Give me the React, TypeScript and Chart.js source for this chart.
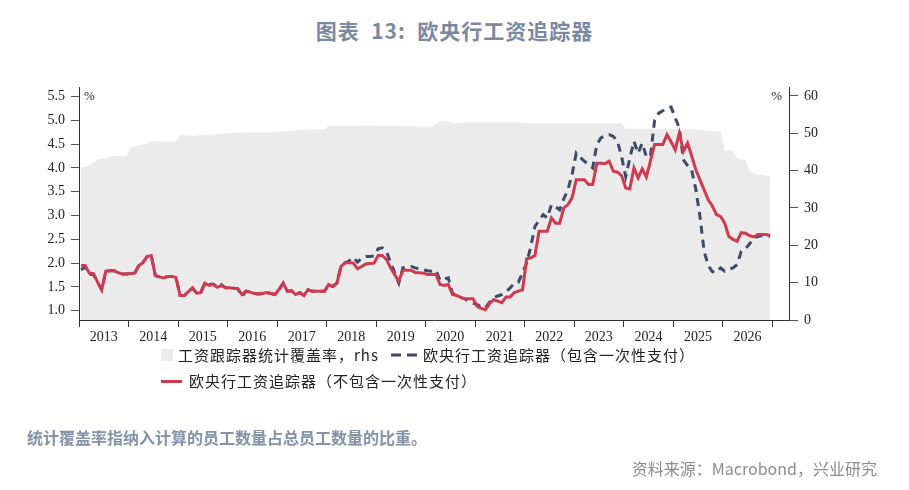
import { useEffect, useRef } from "react";
import { Chart, registerables } from "chart.js";

Chart.register(...registerables);

// Monthly series, January 2013 to December 2026
const FIRST_YEAR = 2013;
const YEAR_LABELS = [
  "2013", "2014", "2015", "2016", "2017", "2018", "2019",
  "2020", "2021", "2022", "2023", "2024", "2025", "2026",
];

// Wage tracker coverage, % of employees (right axis)
const coverageRate = [
  40.9, 40.9, 41.5, 42.1, 42.9, 43.2, 43.4, 43.6, 43.9, 43.9, 43.9, 43.9,
  46.0, 46.5, 46.9, 47.1, 47.3, 47.8, 47.8, 47.9, 47.9, 47.9, 47.9, 47.9,
  49.5, 49.5, 49.4, 49.3, 49.4, 49.5, 49.6, 49.7, 49.7, 49.8, 49.9, 50.0,
  50.0, 50.1, 50.2, 50.2, 50.3, 50.3, 50.3, 50.3, 50.3, 50.3, 50.3, 50.3,
  50.4, 50.5, 50.6, 50.7, 50.8, 50.9, 50.9, 51.0, 51.0, 51.0, 51.1, 51.1,
  52.0, 52.0, 52.0, 52.0, 52.0, 52.0, 52.0, 52.0, 52.1, 52.1, 52.1, 52.1,
  52.0, 52.0, 52.0, 52.0, 52.0, 52.0, 51.9, 51.9, 51.9, 51.8, 51.8, 51.8,
  51.8, 51.8, 52.3, 53.3, 53.2, 53.1, 52.8, 52.7, 52.8, 52.9, 53.0, 53.0,
  53.0, 53.0, 53.0, 53.0, 53.0, 53.0, 53.0, 53.0, 53.0, 53.0, 53.0, 52.8,
  52.7, 52.7, 52.7, 52.7, 52.7, 52.7, 52.7, 52.7, 52.7, 52.7, 52.7, 52.7,
  52.7, 52.7, 52.7, 52.7, 52.7, 52.7, 52.7, 52.7, 52.7, 52.7, 52.7, 52.7,
  51.2, 51.2, 51.2, 51.2, 51.2, 51.2, 51.2, 51.2, 51.2, 51.2, 51.2, 51.2,
  51.2, 51.2, 51.1, 51.1, 51.0, 51.0, 50.9, 50.8, 50.7, 50.6, 50.6, 50.6,
  45.4, 45.4, 45.4, 43.3, 43.0, 42.9, 39.7, 39.3, 39.0, 38.8, 38.6, 38.4,
];

// ECB wage tracker including one-off payments, % y/y (left axis)
const trackerWithOneOffs = [
  1.86, 1.92, 1.76, 1.76, 1.60, 1.44, 1.83, 1.84, 1.84, 1.80, 1.77, 1.77,
  1.78, 1.79, 1.95, 2.01, 2.14, 2.16, 1.74, 1.71, 1.69, 1.72, 1.72, 1.70,
  1.32, 1.32, 1.40, 1.48, 1.37, 1.38, 1.58, 1.55, 1.56, 1.50, 1.55, 1.48,
  1.48, 1.47, 1.46, 1.30, 1.41, 1.39, 1.36, 1.35, 1.36, 1.38, 1.36, 1.34,
  1.45, 1.58, 1.41, 1.42, 1.34, 1.38, 1.32, 1.44, 1.41, 1.41, 1.41, 1.41,
  1.55, 1.51, 1.58, 1.93, 2.01, 2.05, 2.12, 2.02, 2.10, 2.14, 2.14, 2.15,
  2.30, 2.32, 2.25, 2.02, 1.80, 1.58, 1.90, 1.92, 1.93, 1.90, 1.87, 1.86,
  1.84, 1.83, 1.85, 1.64, 1.67, 1.69, 1.37, 1.32, 1.28, 1.25, 1.20, 1.16,
  1.13, 1.08, 1.06, 1.18, 1.27, 1.31, 1.34, 1.40, 1.48, 1.58, 1.60, 1.80,
  2.00, 2.35, 2.77, 2.90, 3.02, 2.95, 3.23, 3.18, 3.12, 3.35, 3.54, 3.86,
  4.31, 4.22, 4.14, 4.07, 4.00, 4.49, 4.63, 4.68, 4.70, 4.66, 4.56, 4.24,
  3.82, 4.20, 4.56, 4.31, 4.52, 4.24, 4.24, 5.00, 5.15, 5.20, 5.26, 5.28,
  5.05, 4.84, 4.17, 4.05, 3.95, 3.55, 2.98, 2.25, 1.95, 1.82, 1.80, 1.90,
  1.83, 1.87, 1.90, 1.97, 2.25, 2.30, 2.40, 2.53, 2.56, 2.58, 2.58, 2.56,
];

// ECB wage tracker excluding one-off payments, % y/y (left axis)
const trackerExOneOffs = [
  1.95, 1.95, 1.79, 1.78, 1.60, 1.44, 1.83, 1.84, 1.84, 1.80, 1.77, 1.77,
  1.78, 1.79, 1.95, 2.01, 2.14, 2.16, 1.74, 1.71, 1.69, 1.72, 1.72, 1.70,
  1.32, 1.32, 1.40, 1.48, 1.37, 1.38, 1.58, 1.53, 1.55, 1.49, 1.53, 1.48,
  1.48, 1.47, 1.46, 1.34, 1.41, 1.39, 1.36, 1.35, 1.36, 1.38, 1.36, 1.34,
  1.45, 1.58, 1.41, 1.42, 1.34, 1.38, 1.32, 1.44, 1.41, 1.41, 1.41, 1.41,
  1.55, 1.51, 1.58, 1.93, 2.01, 2.01, 2.00, 1.88, 1.93, 1.98, 1.99, 2.00,
  2.16, 2.16, 2.08, 1.90, 1.76, 1.62, 1.85, 1.85, 1.85, 1.80, 1.80, 1.79,
  1.76, 1.76, 1.76, 1.55, 1.53, 1.55, 1.34, 1.32, 1.28, 1.25, 1.25, 1.25,
  1.09, 1.05, 1.02, 1.15, 1.23, 1.20, 1.17, 1.29, 1.29, 1.38, 1.41, 1.44,
  2.09, 2.11, 2.16, 2.67, 2.67, 2.67, 2.95, 2.84, 2.84, 3.16, 3.23, 3.37,
  3.75, 3.75, 3.75, 3.65, 3.65, 4.10, 4.10, 4.09, 4.14, 3.93, 3.91, 3.84,
  3.58, 3.56, 4.00, 3.79, 3.98, 3.81, 4.15, 4.49, 4.49, 4.49, 4.70, 4.55,
  4.38, 4.73, 4.35, 4.52, 4.25, 3.96, 3.75, 3.54, 3.33, 3.20, 3.02, 2.98,
  2.84, 2.56, 2.50, 2.46, 2.64, 2.63, 2.58, 2.55, 2.60, 2.60, 2.60, 2.58,
];

const leftTickValues = [1.0, 1.5, 2.0, 2.5, 3.0, 3.5, 4.0, 4.5, 5.0, 5.5];
const rightTickValues = [0, 10, 20, 30, 40, 50, 60];

const RED = "#cf3a50";
const NAVY = "#3b4b69";
const AREA_GREY = "#ebebeb";
const AXIS = "#333333";
const TICK_FONT = { family: "'Liberation Serif', 'DejaVu Serif', serif", size: 14 };
const CJK = "'Noto Sans CJK SC', 'Noto Sans', sans-serif";

const monthX = (i: number) => FIRST_YEAR + (i + 0.5) / 12;
const toPoints = (values: number[]) => values.map((v, i) => ({ x: monthX(i), y: v }));

const percentMarks = {
  id: "percentMarks",
  afterDraw(chart: any) {
    const { ctx, chartArea } = chart;
    ctx.save();
    ctx.font = "13px 'Liberation Serif', serif";
    ctx.fillStyle = "#222";
    ctx.textBaseline = "middle";
    ctx.textAlign = "left";
    ctx.fillText("%", chartArea.left + 5, chartArea.top + 10);
    ctx.textAlign = "right";
    ctx.fillText("%", chartArea.right - 7, chartArea.top + 10);
    ctx.restore();
  },
};

export default function App() {
  const canvasRef = useRef<HTMLCanvasElement | null>(null);

  useEffect(() => {
    const canvas = canvasRef.current;
    if (!canvas) return;
    const chart = new Chart(canvas, {
      type: "line",
      data: {
        datasets: [
          {
            label: "欧央行工资追踪器（不包含一次性支付）",
            data: toPoints(trackerExOneOffs),
            yAxisID: "y",
            borderColor: RED,
            borderWidth: 3,
            pointRadius: 0,
            fill: false,
            tension: 0,
            order: 1,
          },
          {
            label: "欧央行工资追踪器（包含一次性支付）",
            data: toPoints(trackerWithOneOffs),
            yAxisID: "y",
            borderColor: NAVY,
            borderWidth: 3,
            borderDash: [8, 6],
            pointRadius: 0,
            fill: false,
            tension: 0,
            order: 2,
          },
          {
            label: "工资跟踪器统计覆盖率，rhs",
            data: toPoints(coverageRate),
            yAxisID: "y2",
            borderWidth: 0,
            borderColor: "rgba(0,0,0,0)",
            backgroundColor: AREA_GREY,
            pointRadius: 0,
            fill: "origin",
            tension: 0,
            order: 3,
          },
        ],
      },
      options: {
        responsive: false,
        animation: false,
        devicePixelRatio: 1,
        layout: { padding: { top: 87, bottom: 140, left: 0, right: 0 } },
        plugins: {
          legend: { display: false },
          tooltip: { enabled: false },
        },
        scales: {
          x: {
            type: "linear",
            position: "bottom",
            min: 2013,
            max: 2027.34,
            afterBuildTicks: (scale: any) => {
              const ticks: { value: number }[] = [];
              for (let y = FIRST_YEAR; y <= FIRST_YEAR + YEAR_LABELS.length; y++) {
                ticks.push({ value: y });
                if (y < FIRST_YEAR + YEAR_LABELS.length) ticks.push({ value: y + 0.5 });
              }
              scale.ticks = ticks;
            },
            afterFit: (scale: any) => {
              scale.height = 30;
            },
            grid: {
              drawOnChartArea: false,
              drawTicks: true,
              tickLength: 7,
              tickColor: (ctx: any) =>
                Number.isInteger(ctx.tick?.value) ? AXIS : "rgba(0,0,0,0)",
            },
            border: { display: true, color: AXIS, width: 1 },
            ticks: {
              autoSkip: false,
              maxRotation: 0,
              minRotation: 0,
              padding: 2,
              color: "#222",
              font: TICK_FONT,
              callback: (v: any) =>
                Number.isInteger(v) ? "" : YEAR_LABELS[Math.floor(v) - FIRST_YEAR] ?? "",
            },
          },
          y: {
            type: "linear",
            position: "left",
            min: 0.805,
            max: 5.7,
            afterBuildTicks: (scale: any) => {
              scale.ticks = leftTickValues.map((value) => ({ value }));
            },
            afterFit: (scale: any) => {
              scale.width = 79;
            },
            grid: { drawOnChartArea: false, tickLength: 8, tickColor: "#555" },
            border: { display: true, color: AXIS, width: 1 },
            ticks: {
              padding: 6,
              color: "#222",
              font: TICK_FONT,
              callback: (v: any) => Number(v).toFixed(1),
            },
          },
          y2: {
            type: "linear",
            position: "right",
            min: 0,
            max: 62.4,
            afterBuildTicks: (scale: any) => {
              scale.ticks = rightTickValues.map((value) => ({ value }));
            },
            afterFit: (scale: any) => {
              scale.width = 120;
            },
            grid: { drawOnChartArea: false, tickLength: 9, tickColor: "#555" },
            border: { display: true, color: AXIS, width: 1 },
            ticks: {
              padding: 6,
              color: "#222",
              font: TICK_FONT,
              callback: (v: any) => String(v),
            },
          },
        },
      },
      plugins: [percentMarks],
    });
    return () => chart.destroy();
  }, []);

  const legendText: React.CSSProperties = {
    position: "absolute",
    fontFamily: CJK,
    fontSize: 15,
    letterSpacing: 1,
    color: "#222",
    lineHeight: "20px",
    whiteSpace: "nowrap",
  };

  return (
    <div
      style={{
        position: "absolute",
        left: 0,
        top: 0,
        width: 909,
        height: 490,
        background: "#fff",
        overflow: "hidden",
      }}
    >
      <div
        style={{
          position: "absolute",
          left: 0,
          top: 15,
          width: 909,
          textAlign: "center",
          fontFamily: CJK,
          fontSize: 21,
          fontWeight: 700,
          letterSpacing: 1,
          color: "#7a89a1",
          lineHeight: "30px",
          whiteSpace: "pre",
        }}
      >
        {"图表  13:  欧央行工资追踪器"}
      </div>

      <canvas
        ref={canvasRef}
        width={909}
        height={490}
        style={{ position: "absolute", left: 0, top: 0, width: 909, height: 490 }}
      />

      {/* legend */}
      <div
        style={{
          position: "absolute",
          left: 161,
          top: 349,
          width: 12,
          height: 12,
          background: AREA_GREY,
        }}
      />
      <div style={{ ...legendText, left: 178, top: 345 }}>工资跟踪器统计覆盖率，rhs</div>
      <svg
        width={28}
        height={6}
        style={{ position: "absolute", left: 391, top: 352 }}
      >
        <line x1={0} y1={3} x2={28} y2={3} stroke={NAVY} strokeWidth={3} strokeDasharray="10,6" />
      </svg>
      <div style={{ ...legendText, left: 423, top: 345 }}>欧央行工资追踪器（包含一次性支付）</div>
      <div
        style={{
          position: "absolute",
          left: 161,
          top: 380,
          width: 21,
          height: 3,
          background: RED,
        }}
      />
      <div style={{ ...legendText, left: 189, top: 371 }}>欧央行工资追踪器（不包含一次性支付）</div>

      <div
        style={{
          position: "absolute",
          left: 27,
          top: 426,
          fontFamily: CJK,
          fontSize: 16,
          fontWeight: 700,
          color: "#8392a9",
          lineHeight: "22px",
          whiteSpace: "nowrap",
        }}
      >
        统计覆盖率指纳入计算的员工数量占总员工数量的比重。
      </div>
      <div
        style={{
          position: "absolute",
          right: 32,
          top: 457,
          fontFamily: CJK,
          fontSize: 16,
          color: "#8c8c8c",
          lineHeight: "22px",
          whiteSpace: "nowrap",
        }}
      >
        资料来源：Macrobond，兴业研究
      </div>
    </div>
  );
}
